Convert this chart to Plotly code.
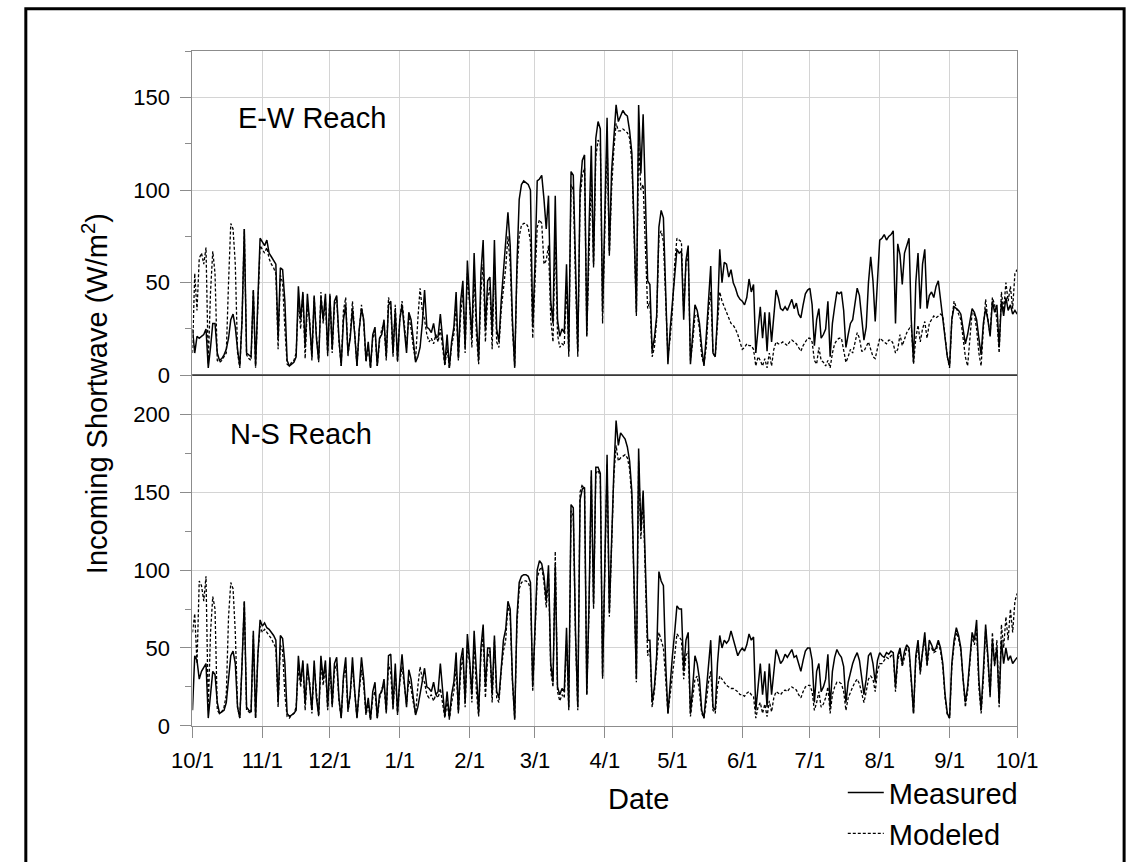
import pandas as pd
import plotly.graph_objects as go

# Daily incoming shortwave radiation (W/m^2), 10/1/2011 through 10/1/2012.
# One line per month: Oct, Nov, Dec, Jan, Feb, Mar, Apr, May, Jun, Jul, Aug, Sep (+10/1).
ew_measured = [
    25, 12, 21, 20, 21, 22, 25, 4, 15, 28, 28, 12, 8, 9, 11, 14, 20, 30, 33, 26, 14, 5, 30, 79, 12, 11, 10, 46, 5, 40, 74,
    72, 70, 73, 66, 64, 62, 60, 20, 58, 57, 40, 8, 5, 6, 7, 10, 48, 30, 45, 15, 44, 28, 10, 43, 20, 8, 42, 30, 44, 12,
    43, 14, 40, 43, 20, 5, 30, 38, 12, 20, 36, 22, 5, 25, 36, 30, 8, 18, 4, 22, 26, 5, 20, 22, 30, 10, 38, 40, 12, 35, 8,
    30, 38, 25, 12, 34, 30, 19, 7, 10, 15, 28, 46, 26, 25, 23, 28, 20, 21, 33, 20, 6, 22, 4, 18, 26, 45, 9, 40, 51, 15, 62,
    40, 20, 66, 30, 8, 55, 73, 25, 51, 53, 22, 73, 25, 18, 40, 55, 70, 88, 70, 30, 4, 60, 95, 103, 105, 104, 103, 100, 26,
    60, 105, 106, 108, 95, 79, 97, 40, 28, 97, 30, 21, 25, 23, 60, 13, 110, 108, 60, 13, 100, 116, 119, 21, 80, 124, 60, 128, 137, 133, 34,
    90, 139, 66, 110, 128, 146, 137, 140, 143, 141, 140, 132, 120, 80, 34, 146, 109, 141, 90, 51, 49, 13, 20, 32, 80, 89, 85, 40, 6, 25,
    40, 55, 68, 66, 67, 30, 62, 70, 6, 22, 38, 35, 28, 15, 5, 21, 40, 59, 12, 10, 32, 68, 50, 61, 60, 53, 57, 50, 47, 43, 41,
    40, 38, 42, 52, 45, 49, 12, 25, 37, 20, 34, 13, 34, 18, 30, 46, 42, 36, 35, 37, 35, 38, 41, 36, 39, 33, 31, 38, 44, 46,
    47, 38, 16, 30, 36, 20, 22, 25, 40, 10, 28, 37, 45, 44, 45, 35, 15, 22, 28, 30, 40, 47, 43, 30, 19, 26, 50, 64, 51, 29, 50,
    73, 74, 76, 73, 75, 76, 78, 28, 71, 65, 49, 66, 70, 74, 30, 7, 50, 66, 36, 60, 68, 36, 43, 45, 42, 48, 51, 40, 30, 21, 10,
    5, 30, 37, 36, 35, 33, 25, 17, 22, 28, 36, 34, 30, 20, 11, 28, 36, 30, 21, 40, 34, 38, 15, 40, 32, 42, 35, 38, 33, 35, 33,
]
ew_modeled = [
    12, 55, 35, 63, 66, 60, 69, 6, 45, 67, 55, 8, 7, 8, 10, 12, 50, 82, 79, 60, 12, 4, 30, 79, 11, 9, 8, 46, 4, 40, 70,
    68, 66, 69, 63, 60, 58, 55, 14, 54, 50, 25, 6, 5, 7, 8, 12, 40, 25, 44, 9, 38, 30, 8, 42, 22, 7, 45, 28, 41, 10,
    44, 12, 38, 42, 18, 5, 35, 42, 10, 22, 40, 24, 5, 24, 38, 28, 7, 15, 4, 20, 24, 5, 18, 25, 28, 8, 42, 36, 10, 38, 7,
    30, 40, 28, 15, 32, 25, 15, 8, 30, 47, 35, 30, 22, 18, 20, 17, 22, 18, 25, 14, 5, 15, 4, 16, 22, 38, 8, 32, 45, 12, 55,
    38, 15, 55, 22, 6, 45, 60, 18, 42, 48, 14, 60, 18, 15, 35, 45, 58, 75, 60, 25, 5, 55, 75, 81, 82, 82, 80, 72, 20,
    50, 80, 84, 82, 60, 62, 70, 30, 18, 75, 22, 15, 17, 16, 50, 10, 103, 100, 50, 10, 95, 108, 112, 22, 65, 108, 58, 118, 127, 125, 28,
    80, 128, 64, 100, 122, 136, 132, 132, 133, 132, 131, 128, 115, 75, 32, 126, 100, 103, 70, 36, 40, 10, 15, 30, 75, 78, 72, 35, 10, 20,
    35, 60, 74, 73, 72, 34, 60, 65, 8, 18, 32, 33, 25, 10, 6, 15, 35, 45, 12, 10, 30, 45, 40, 37, 34, 32, 28, 27, 25, 22, 18,
    14, 15, 17, 16, 16, 14, 5, 10, 8, 5, 9, 4, 12, 5, 14, 18, 17, 17, 18, 17, 16, 18, 19, 18, 17, 15, 13, 16, 18, 20,
    20, 18, 8, 6, 15, 8, 7, 5, 8, 4, 12, 17, 19, 20, 20, 14, 7, 10, 14, 12, 18, 23, 20, 13, 13, 16, 18, 14, 10, 9, 15,
    20, 19, 18, 17, 19, 19, 17, 12, 14, 22, 16, 20, 23, 25, 27, 6, 20, 27, 18, 25, 29, 20, 28, 30, 32, 31, 32, 33, 32, 20, 10,
    4, 30, 40, 36, 33, 30, 20, 10, 5, 22, 34, 33, 25, 12, 5, 25, 41, 30, 22, 42, 38, 30, 12, 45, 35, 50, 40, 48, 36, 55, 57,
]
ns_measured = [
    10, 45, 42, 30, 35, 38, 40, 5, 20, 35, 33, 15, 8, 9, 10, 15, 30, 45, 48, 40, 12, 5, 40, 80, 12, 10, 9, 61, 5, 45, 68,
    64, 66, 63, 62, 60, 58, 55, 15, 58, 56, 40, 8, 6, 7, 8, 10, 45, 28, 42, 14, 40, 26, 10, 42, 18, 7, 45, 30, 42, 12,
    44, 13, 40, 44, 18, 5, 32, 44, 10, 20, 44, 22, 5, 24, 44, 30, 8, 18, 4, 22, 28, 5, 20, 22, 30, 9, 45, 46, 12, 40, 8,
    30, 46, 28, 12, 36, 30, 18, 7, 12, 20, 30, 37, 25, 24, 22, 28, 20, 22, 40, 20, 6, 22, 5, 20, 28, 47, 9, 42, 50, 15, 59,
    42, 20, 61, 30, 8, 50, 65, 25, 50, 50, 20, 58, 22, 18, 40, 55, 62, 80, 75, 30, 4, 70, 92, 96, 97, 97, 96, 92, 25,
    60, 100, 106, 104, 96, 80, 103, 40, 28, 103, 25, 20, 24, 22, 63, 12, 142, 140, 60, 12, 145, 152, 153, 20, 80, 164, 78, 166, 166, 162, 32,
    100, 174, 73, 120, 163, 196, 180, 188, 186, 184, 179, 170, 150, 80, 30, 178, 125, 151, 100, 55, 55, 15, 25, 45, 99, 93, 90, 40, 8, 30,
    45, 60, 77, 75, 75, 35, 55, 60, 8, 25, 45, 40, 30, 10, 5, 22, 40, 55, 12, 10, 40, 58, 50, 55, 53, 55, 61, 55, 50, 45, 48,
    50, 48, 52, 59, 55, 57, 10, 25, 40, 20, 35, 12, 40, 20, 35, 49, 45, 40, 42, 46, 44, 47, 49, 44, 45, 40, 35, 42, 48, 50,
    50, 42, 15, 35, 40, 22, 25, 30, 46, 12, 35, 44, 49, 46, 44, 38, 15, 28, 35, 40, 44, 47, 42, 30, 20, 30, 45, 47, 40, 28, 42,
    47, 45, 44, 47, 46, 48, 47, 25, 45, 50, 40, 48, 52, 50, 30, 8, 45, 55, 35, 50, 60, 40, 55, 52, 48, 50, 55, 50, 40, 20, 8,
    5, 40, 55, 63, 58, 50, 30, 15, 25, 45, 60, 55, 68, 30, 10, 35, 65, 45, 20, 55, 40, 50, 15, 55, 40, 50, 42, 45, 40, 42, 44,
]
ns_modeled = [
    60, 72, 40, 93, 90, 80, 96, 10, 60, 83, 75, 10, 8, 9, 12, 20, 70, 92, 88, 60, 12, 5, 40, 80, 10, 9, 8, 58, 5, 45, 64,
    60, 62, 60, 58, 56, 53, 50, 12, 52, 48, 20, 6, 5, 7, 8, 12, 38, 25, 40, 10, 35, 28, 8, 38, 20, 6, 40, 26, 38, 10,
    40, 12, 35, 40, 16, 5, 30, 38, 9, 20, 38, 22, 5, 22, 36, 26, 7, 14, 4, 18, 22, 5, 17, 24, 26, 8, 40, 34, 10, 35, 7,
    28, 38, 26, 14, 30, 24, 15, 8, 25, 38, 30, 28, 20, 18, 20, 16, 20, 18, 24, 14, 5, 15, 4, 15, 22, 38, 8, 34, 45, 12, 52,
    40, 15, 55, 22, 6, 45, 58, 18, 44, 48, 15, 55, 18, 15, 35, 48, 55, 78, 70, 28, 5, 65, 88, 92, 93, 93, 92, 88, 22,
    60, 95, 100, 102, 92, 76, 98, 35, 25, 112, 22, 16, 20, 18, 55, 10, 138, 135, 55, 10, 150, 155, 150, 20, 75, 160, 75, 162, 164, 160, 30,
    95, 168, 70, 115, 160, 180, 170, 172, 173, 174, 172, 165, 145, 75, 28, 170, 120, 145, 95, 45, 50, 12, 22, 40, 60, 55, 50, 30, 8, 20,
    35, 45, 59, 57, 55, 30, 45, 48, 6, 18, 30, 32, 22, 8, 5, 15, 28, 35, 10, 8, 25, 32, 30, 28, 26, 25, 24, 24, 23, 22, 20,
    20, 19, 21, 22, 20, 19, 5, 12, 15, 8, 14, 6, 16, 9, 18, 22, 21, 20, 22, 23, 22, 24, 25, 24, 23, 20, 18, 22, 25, 26,
    26, 22, 10, 15, 22, 12, 14, 18, 25, 8, 20, 25, 28, 28, 27, 22, 10, 18, 22, 25, 28, 30, 27, 20, 15, 22, 30, 32, 30, 22, 35,
    40, 40, 42, 44, 43, 45, 46, 22, 42, 48, 38, 45, 50, 48, 28, 8, 42, 52, 33, 48, 55, 38, 50, 50, 47, 48, 53, 48, 38, 18, 7,
    5, 38, 52, 60, 56, 48, 28, 12, 22, 42, 58, 52, 62, 25, 8, 30, 62, 42, 18, 60, 38, 55, 12, 65, 50, 70, 55, 75, 60, 80, 85,
]

dates = pd.date_range("2011-10-01", periods=len(ew_measured), freq="D")

FONT = "Arial, Liberation Sans, sans-serif"
AXIS_GRAY = "#8c8c8c"
GRID_GRAY = "#d4d4d4"

fig = go.Figure()

solid = dict(color="black", width=1.5)
dashed = dict(color="black", width=1.3, dash="3px,2px")

fig.add_trace(go.Scatter(x=dates, y=ew_measured, mode="lines", line=solid,
                         name="Measured", legendgroup="m", xaxis="x", yaxis="y"))
fig.add_trace(go.Scatter(x=dates, y=ew_modeled, mode="lines", line=dashed,
                         name="Modeled", legendgroup="d", xaxis="x", yaxis="y"))
fig.add_trace(go.Scatter(x=dates, y=ns_measured, mode="lines", line=solid,
                         name="Measured", legendgroup="m", showlegend=False,
                         xaxis="x2", yaxis="y2"))
fig.add_trace(go.Scatter(x=dates, y=ns_modeled, mode="lines", line=dashed,
                         name="Modeled", legendgroup="d", showlegend=False,
                         xaxis="x2", yaxis="y2"))

W, H = 1148, 862
x_dom = [178 / W, 1034 / W]
top_dom = [1 - 381 / H, 1 - 52 / H]
bot_dom = [1 - 737 / H, 1 - 381 / H]
x_range = ["2011-10-01", "2012-10-01"]

common_x = dict(
    domain=x_dom, range=x_range, type="date", dtick="M1", tick0="2011-10-01",
    showgrid=True, gridcolor=GRID_GRAY, gridwidth=1,
    showline=True, linecolor=AXIS_GRAY, linewidth=1, mirror=True,
    zeroline=False,
)
common_y = dict(
    tick0=0, dtick=50, showgrid=True, gridcolor=GRID_GRAY, gridwidth=1,
    showline=True, linecolor=AXIS_GRAY, linewidth=1, mirror=True,
    ticks="outside", ticklen=11, tickcolor=AXIS_GRAY, tickwidth=1,
    tickfont=dict(family=FONT, size=22, color="black"),
    ticklabelstandoff=6,
    minor=dict(dtick=25, tick0=0, ticks="outside", ticklen=6,
               tickcolor=AXIS_GRAY, showgrid=False),
    zeroline=False,
)

fig.update_layout(
    width=W, height=H,
    margin=dict(l=0, r=0, t=0, b=0),
    paper_bgcolor="white", plot_bgcolor="white",
    font=dict(family=FONT, color="black"),
    xaxis=dict(common_x, anchor="y", matches="x2", showticklabels=False, ticks=""),
    yaxis=dict(common_y, domain=top_dom, range=[0, 175], anchor="x"),
    xaxis2=dict(common_x, anchor="y2", ticks="outside", ticklen=11,
                tickcolor=AXIS_GRAY, tickformat="%-m/%-d",
                tickfont=dict(family=FONT, size=22, color="black"),
                ticklabelstandoff=4),
    yaxis2=dict(common_y, domain=bot_dom, range=[0, 225], anchor="x2"),
    showlegend=True,
    legend=dict(
        x=853 / W, y=1 - 779 / H, xanchor="left", yanchor="top",
        font=dict(family=FONT, size=29, color="black"),
        bgcolor="rgba(0,0,0,0)", borderwidth=0, tracegroupgap=0,
        itemwidth=36,
    ),
)

# Dark line separating the two panels (top panel baseline)
fig.add_shape(type="line", xref="paper", yref="paper",
              x0=x_dom[0], x1=x_dom[1], y0=top_dom[0], y1=top_dom[0],
              line=dict(color="#3a3a3a", width=1.5))

# Outer frame of the figure
fig.add_shape(type="rect", xref="paper", yref="paper",
              x0=5 / W, x1=1145 / W, y0=-0.05, y1=1 - 9 / H,
              line=dict(color="black", width=3), fillcolor="rgba(0,0,0,0)",
              layer="above")

fig.add_annotation(text="E-W Reach", xref="paper", yref="paper",
                   x=223 / W, y=1 - 120 / H, xanchor="left", yanchor="middle",
                   showarrow=False, font=dict(family=FONT, size=29))
fig.add_annotation(text="N-S Reach", xref="paper", yref="paper",
                   x=215 / W, y=1 - 441 / H, xanchor="left", yanchor="middle",
                   showarrow=False, font=dict(family=FONT, size=29))
fig.add_annotation(text="Incoming Shortwave (W/m<sup>2</sup>)", xref="paper", yref="paper",
                   x=77 / W, y=1 - 400 / H, xanchor="center", yanchor="middle",
                   textangle=-90, showarrow=False, font=dict(family=FONT, size=29))
fig.add_annotation(text="Date", xref="paper", yref="paper",
                   x=641 / W, y=1 - 811 / H, xanchor="center", yanchor="middle",
                   showarrow=False, font=dict(family=FONT, size=29))

fig.write_html("out.html")
